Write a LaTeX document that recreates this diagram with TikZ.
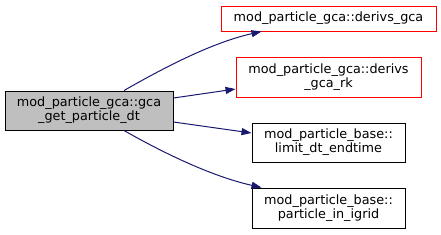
\documentclass[tikz,border=0pt]{standalone}
\usepackage{fontspec}
\setmainfont{DejaVu Sans}
\usetikzlibrary{arrows.meta}
\definecolor{edgeblue}{HTML}{191970}
\definecolor{nodegrey}{HTML}{BFBFBF}
\begin{document}
\begin{tikzpicture}[x=1pt,y=-1pt,
  box/.style={draw=black,line width=1pt,inner sep=0pt,align=center,font=\fontsize{12.8}{14}\selectfont},
  redbox/.style={box,draw=red},
  conn/.style={draw=edgeblue,line width=1pt,-{Triangle[length=10pt,width=7pt]}}]
\useasboundingbox (0,0) rectangle (441,234);
\node[box,fill=nodegrey,minimum width=168pt,minimum height=39pt] (src) at (89,110.5) {mod\_particle\_gca::gca\\\_get\_particle\_dt};
\node[redbox,minimum width=215pt,minimum height=25pt] (n1) at (328.5,18.5) {mod\_particle\_gca::derivs\_gca};
\node[redbox,minimum width=185pt,minimum height=40pt] (n2) at (328.5,77) {mod\_particle\_gca::derivs\\\_gca\_rk};
\node[box,minimum width=153pt,minimum height=39pt] (n3) at (328.5,142.5) {mod\_particle\_base::\\limit\_dt\_endtime};
\node[box,minimum width=153pt,minimum height=40pt] (n4) at (328.5,208) {mod\_particle\_base::\\particle\_in\_igrid};
\draw[conn] ([xshift=35pt]src.north) .. controls (160,70) and (210,43) .. ([xshift=-67pt]n1.south);
\draw[conn] ([yshift=12.5pt]src.east) -- ([yshift=-12pt]n2.west);
\draw[conn] ([yshift=-11.5pt]src.east) -- ([yshift=9.5pt]n3.west);
\draw[conn] ([xshift=35pt]src.south) .. controls (160,151) and (210,176) .. ([xshift=-67pt]n4.north);
\end{tikzpicture}
\end{document}
